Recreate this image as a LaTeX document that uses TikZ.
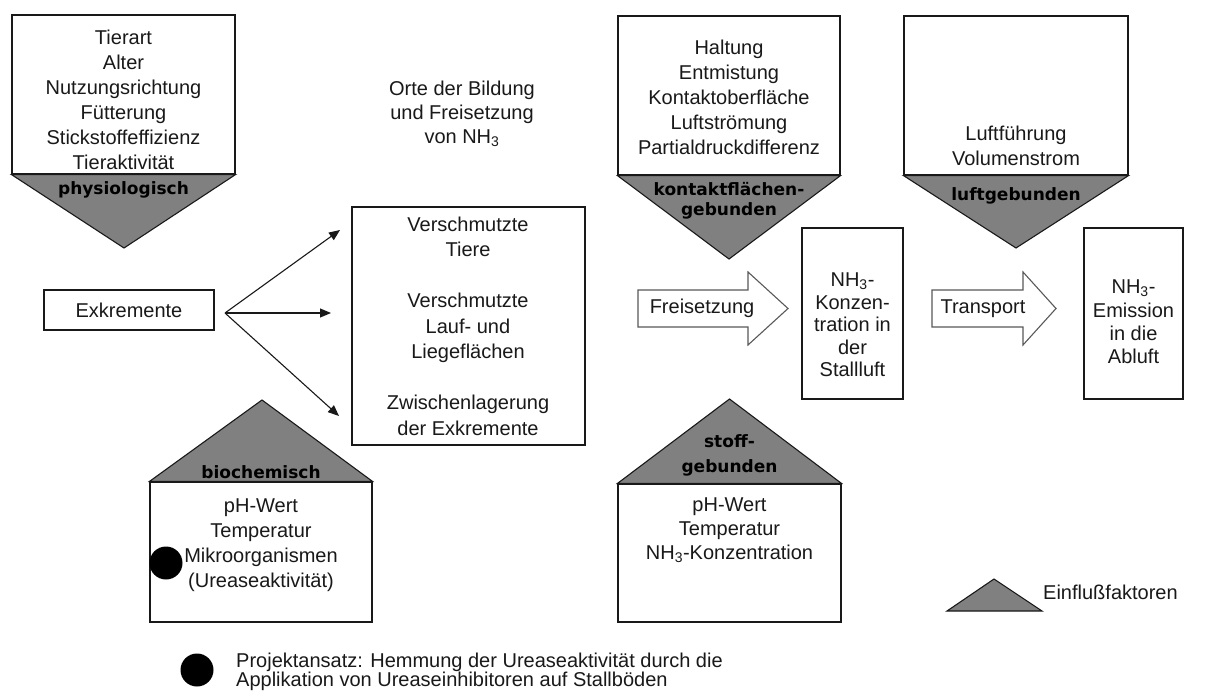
\documentclass[tikz,border=0pt]{standalone}
\usepackage{fontspec}
\setmainfont{Liberation Sans}
\newfontfamily\lblfont{DejaVu Sans}
\usetikzlibrary{arrows.meta}
\definecolor{trigray}{RGB}{128,128,128}
\definecolor{ink}{RGB}{25,25,25}
\begin{document}
\begin{tikzpicture}[x=1pt,y=-1pt,
  box/.style={draw=ink, line width=1.1pt, fill=white, inner sep=0pt},
  txt/.style={font=\fontsize{20}{25}\selectfont, align=center, text=ink, inner sep=0pt},
  txtn/.style={font=\fontsize{20}{23}\selectfont, align=center, text=ink, inner sep=0pt},
  lbl/.style={font=\lblfont\bfseries\fontsize{17}{21}\selectfont, align=center, text=black, inner sep=0pt},
  trishape/.style={draw=ink, line width=1.1pt, fill=trigray, line join=miter},
  blockarrow/.style={draw=black!65, line width=1.1pt, fill=white, line join=miter},
  conn/.style={draw=ink, line width=1.1pt, -{Triangle[length=11pt,width=9pt]}},
  dot/.style={circle, fill=black, minimum size=33pt, inner sep=0pt}
]
\useasboundingbox (0,0) rectangle (1210,698);
\fill[white] (0,0) rectangle (1210,698);

% ---------- physiologisch ----------
\node[box, minimum width=223pt, minimum height=159pt] (phys) at (123.5,94.5) {};
\draw[trishape] (phys.south west) -- (phys.south east) -- (124,248) -- cycle;
\node[txt] (physT) at (123.5,100) {Tierart\\Alter\\Nutzungsrichtung\\Fütterung\\Stickstoffeffizienz\\Tieraktivität};
\node[lbl] (physL) at (123.5,190) {physiologisch};

% ---------- kontaktflächengebunden ----------
\node[box, minimum width=222pt, minimum height=159pt] (kont) at (729,95.5) {};
\draw[trishape] (kont.south west) -- (kont.south east) -- (729,259) -- cycle;
\node[txt] (kontT) at (729,97.5) {Haltung\\Entmistung\\Kontaktoberfläche\\Luftströmung\\Partialdruckdifferenz};
\node[lbl, font=\lblfont\bfseries\fontsize{17}{20}\selectfont] (kontL) at (729,201) {kontaktflächen-\\gebunden};

% ---------- luftgebunden ----------
\node[box, minimum width=224pt, minimum height=159pt] (luft) at (1016,95.5) {};
\draw[trishape] (luft.south west) -- (luft.south east) -- (1016,248) -- cycle;
\node[txt] (luftT) at (1016,146) {Luftführung\\Volumenstrom};
\node[lbl] (luftL) at (1016,196) {luftgebunden};

% ---------- biochemisch ----------
\node[box, minimum width=222pt, minimum height=140pt] (bio) at (261,552) {};
\draw[trishape] (bio.north west) -- (bio.north east) -- (262,400) -- cycle;
\node[lbl] (bioL) at (261,472) {biochemisch};
\node[txt] (bioT) at (261,545) {pH-Wert\\Temperatur\\Mikroorganismen\\(Ureaseaktivität)};
\node[dot] (biodot) at (166,563) {};

% ---------- stoffgebunden ----------
\node[box, minimum width=223pt, minimum height=138pt] (stoff) at (729.5,553) {};
\draw[trishape] (stoff.north west) -- (stoff.north east) -- (729.5,399) -- cycle;
\node[lbl, font=\lblfont\bfseries\fontsize{17}{25}\selectfont] (stoffL) at (729.5,455) {stoff-\\gebunden};
\node[txt, font=\fontsize{20}{24}\selectfont] (stoffT) at (729.5,530) {pH-Wert\\Temperatur\\NH\textsubscript{3}-Konzentration};

% ---------- Exkremente and locations ----------
\node[box, minimum width=170pt, minimum height=40pt] (exk) at (129,310) {};
\node[txt] (exkT) at (129,310) {Exkremente};

\node[txt, font=\fontsize{20}{24}\selectfont] (orte) at (462,114) {Orte der Bildung\\und Freisetzung\\von NH\textsubscript{3}};

\node[box, minimum width=233pt, minimum height=238pt] (orteBox) at (468.5,326) {};
\node[txt, font=\fontsize{20}{25.5}\selectfont] (orteT) at (468,326) {Verschmutzte\\Tiere\\[25.5pt]Verschmutzte\\Lauf- und\\Liegeflächen\\[25.5pt]Zwischenlagerung\\der Exkremente};

\coordinate (fork) at (225,313);
\coordinate (endA) at (340,230);
\coordinate (endB) at (331,313);
\coordinate (endC) at (339,416);
\draw[conn] (fork) -- (endA);
\draw[conn] (fork) -- (endB);
\draw[conn] (fork) -- (endC);

% ---------- NH3 boxes ----------
\node[box, minimum width=101pt, minimum height=171pt] (konz) at (852.5,313.5) {};
\node[txtn, font=\fontsize{20}{22.5}\selectfont] (konzT) at (852.5,325) {NH\textsubscript{3}-\\Konzen-\\tration in\\der\\Stallluft};

\node[box, minimum width=99pt, minimum height=171pt] (emis) at (1133.5,313.5) {};
\node[txtn, font=\fontsize{20}{23.3}\selectfont] (emisT) at (1133.5,322) {NH\textsubscript{3}-\\Emission\\in die\\Abluft};

% ---------- block arrows ----------
\draw[blockarrow] (638,290) -- (748,290) -- (748,272) -- (788,308.5) -- (748,345) -- (748,327) -- (638,327) -- cycle;
\node[txt] (freiT) at (702,308.5) {Freisetzung};

\draw[blockarrow] (932,290) -- (1023,290) -- (1023,272) -- (1056,308.5) -- (1023,345) -- (1023,327) -- (932,327) -- cycle;
\node[txt] (transT) at (983,308.5) {Transport};

% ---------- legend ----------
\draw[trishape] (947,611) -- (1042,611) -- (994,579) -- cycle;
\node[txt, anchor=west] (legT) at (1043,592) {Einflußfaktoren};

\node[dot] (footdot) at (197,670) {};
\node[txt, font=\fontsize{20}{18.5}\selectfont, align=left, anchor=west] (footT) at (236,672) {Projektansatz: Hemmung der Ureaseaktivität durch die\\Applikation von Ureaseinhibitoren auf Stallböden};
\end{tikzpicture}
\end{document}
